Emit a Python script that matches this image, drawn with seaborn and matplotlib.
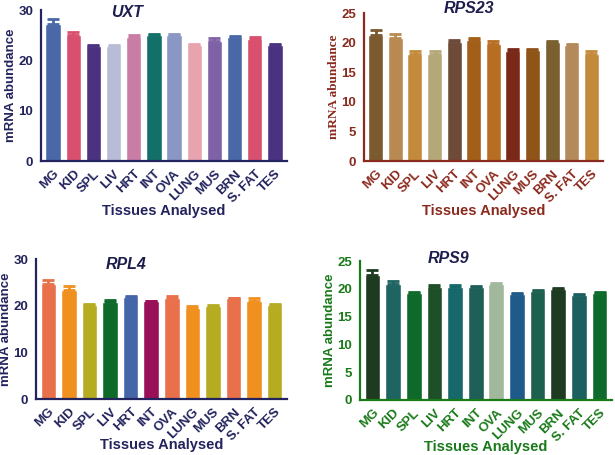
import matplotlib
matplotlib.use("Agg")
import matplotlib.pyplot as plt
import seaborn as sns
import pandas as pd

sns.set_style("white")
plt.rcParams['font.family'] = ['Liberation Sans', 'DejaVu Sans']

tissues = ["MG", "KID", "SPL", "LIV", "HRT", "INT", "OVA", "LUNG", "MUS", "BRN", "S. FAT", "TES"]

uxt_vals = [27.3, 25.0, 22.9, 22.9, 24.7, 25.1, 25.0, 23.0, 23.9, 24.7, 24.3, 23.0]
uxt_err = [1.0, 0.7, 0.2, 0.2, 0.3, 0.2, 0.3, 0.3, 0.5, 0.2, 0.3, 0.2]
uxt_colors = ["#4a68a8", "#d94f6e", "#4a3280", "#b9bcd6", "#c97ca4", "#137068",
              "#8a96c4", "#e8a3ae", "#7f62a6", "#4a68a8", "#d94f6e", "#4a3280"]

rps23_vals = [21.2, 20.7, 18.1, 18.0, 20.1, 20.5, 19.8, 18.6, 18.7, 20.1, 19.6, 18.1]
rps23_err = [1.0, 0.8, 0.4, 0.6, 0.4, 0.3, 0.5, 0.4, 0.2, 0.1, 0.2, 0.4]
rps23_colors = ["#7a5a2e", "#b88a52", "#c48a3c", "#b5a878", "#6e4a38", "#a35f1a",
                "#b86e22", "#7a2818", "#8f5418", "#7a6030", "#b48a5a", "#c48a3c"]

rpl4_vals = [24.7, 23.4, 20.1, 20.8, 21.9, 21.0, 21.7, 19.6, 19.9, 21.6, 21.1, 20.1]
rpl4_err = [0.7, 0.9, 0.2, 0.5, 0.2, 0.1, 0.3, 0.3, 0.2, 0.1, 0.5, 0.2]
rpl4_colors = ["#e8704a", "#f0901e", "#b5ac22", "#0e6a2a", "#4466a8", "#991058",
               "#e8704a", "#f0901e", "#b5ac22", "#e8704a", "#f0901e", "#b5ac22"]

rps9_vals = [22.4, 20.9, 19.3, 20.3, 20.3, 20.4, 20.9, 19.1, 19.6, 20.0, 18.9, 19.3]
rps9_err = [0.9, 0.5, 0.1, 0.3, 0.3, 0.1, 0.2, 0.1, 0.2, 0.2, 0.1, 0.1]
rps9_colors = ["#1e3a20", "#1e6460", "#0e6a2a", "#1e4f28", "#16686a", "#1e6058",
               "#a2b89c", "#1e5a8a", "#1e6050", "#1e3a20", "#1e6060", "#0e6a2a"]

W, H = 615, 455
fig = plt.figure(figsize=(W / 100, H / 100), dpi=100)


def panel(px, title, vals, errs, colors, ymax, ystep, tcolor, tpos, xlab_y, ylab_font):
    l, r, t, b = px
    ax = fig.add_axes([l / W, 1 - b / H, (r - l) / W, (b - t) / H])
    df = pd.DataFrame({"tissue": tissues, "val": vals})
    sns.barplot(data=df, x="tissue", y="val", hue="tissue", palette=colors,
                legend=False, width=0.76, ax=ax, saturation=1)
    for p, e, c in zip(ax.patches, errs, colors):
        xc = p.get_x() + p.get_width() / 2
        ax.errorbar([xc], [p.get_height()], yerr=[[0], [e]], fmt='none',
                    ecolor=c, elinewidth=2.0, capsize=4.5, capthick=2.0, zorder=5)
    ax.set_ylim(0, ymax)
    ax.set_xlim(-0.6, len(tissues) - 0.4)
    ax.set_yticks(range(0, ymax + 1, ystep))
    for s in ["top", "right"]:
        ax.spines[s].set_visible(False)
    for s in ["left", "bottom"]:
        ax.spines[s].set_color(tcolor)
        ax.spines[s].set_linewidth(1.6)
    ax.tick_params(axis='both', colors=tcolor, direction='out', length=4, width=1.4,
                   labelsize=9.5)
    ax.tick_params(axis='x', pad=1)
    ax.tick_params(axis='y', pad=1.5)
    for lab in ax.get_yticklabels():
        lab.set_fontweight('bold')
    for lab in ax.get_xticklabels():
        lab.set_fontweight('bold')
        lab.set_rotation(45)
        lab.set_ha('right')
        lab.set_rotation_mode('anchor')
    ax.set_xlabel("")
    ax.text(0.5, xlab_y, "Tissues Analysed", transform=ax.transAxes, ha='center', va='center',
            fontsize=10.5, fontweight='bold', color=tcolor)
    ax.set_ylabel("mRNA abundance", fontsize=9.5, fontweight='bold', color=tcolor,
                  family=ylab_font, labelpad=1)
    ax.text(tpos[0], tpos[1], title, transform=ax.transAxes, ha='center', va='center',
            fontsize=11.5, fontweight='bold', fontstyle='italic', color='#1e1e4e')
    return ax


navy = "#23235e"
panel((41, 287, 10, 161), "UXT", uxt_vals, uxt_err, uxt_colors, 30, 10, navy,
      (0.35, 0.985), -0.33, ['Liberation Sans'])
panel((364, 603, 13, 161), "RPS23", rps23_vals, rps23_err, rps23_colors, 25, 5, "#8b2a1e",
      (0.44, 1.03), -0.34, ['Liberation Serif'])
panel((36, 287, 259, 399), "RPL4", rpl4_vals, rpl4_err, rpl4_colors, 30, 10, navy,
      (0.36, 0.96), -0.33, ['Liberation Sans'])
panel((360, 612, 261, 400), "RPS9", rps9_vals, rps9_err, rps9_colors, 25, 5, "#1a7a1a",
      (0.35, 1.02), -0.34, ['Liberation Sans'])

fig.savefig("out.png", dpi=100)
